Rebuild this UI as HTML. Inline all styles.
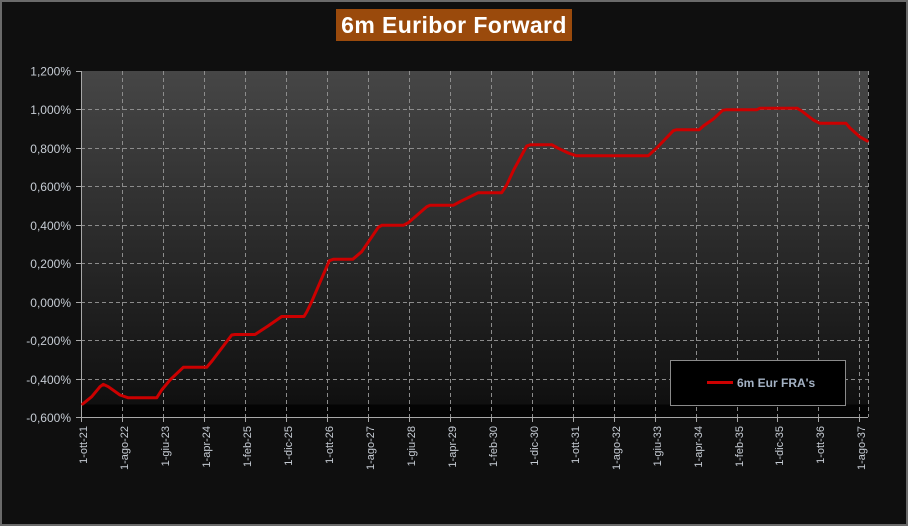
<!DOCTYPE html>
<html>
<head>
<meta charset="utf-8">
<style>
  html,body{margin:0;padding:0;background:#0f0f0f;}
  body{width:908px;height:526px;overflow:hidden;}
  svg{display:block;}
  text{font-family:"Liberation Sans",Arial,sans-serif;}
</style>
</head>
<body>
<svg width="908" height="526" viewBox="0 0 908 526" xmlns="http://www.w3.org/2000/svg">
  <defs>
    <linearGradient id="pg" x1="0" y1="0" x2="0" y2="1">
      <stop offset="0" stop-color="#464646"/>
      <stop offset="0.5" stop-color="#2a2a2a"/>
      <stop offset="0.96" stop-color="#101010"/>
      <stop offset="0.965" stop-color="#040404"/>
      <stop offset="1" stop-color="#040404"/>
    </linearGradient>
  </defs>
  <!-- background & border -->
  <rect x="0" y="0" width="908" height="526" fill="#0f0f0f"/>
  <rect x="1" y="1" width="906" height="524" fill="none" stroke="#6a6a6a" stroke-width="2"/>

  <!-- title -->
  <rect x="336" y="9" width="236" height="32" fill="#9a4a0c"/>
  <text x="454" y="33" text-anchor="middle" font-size="23" font-weight="bold" fill="#ffffff" letter-spacing="0.4">6m Euribor Forward</text>

  <!-- plot area -->
  <rect x="81" y="71" width="787" height="346.5" fill="url(#pg)"/>

  <!-- horizontal grid -->
  <g stroke="#8c8c8c" stroke-width="1" stroke-dasharray="4,3" shape-rendering="crispEdges">
    <line x1="81" y1="109.5" x2="868" y2="109.5"/>
    <line x1="81" y1="148.5" x2="868" y2="148.5"/>
    <line x1="81" y1="186.5" x2="868" y2="186.5"/>
    <line x1="81" y1="225.5" x2="868" y2="225.5"/>
    <line x1="81" y1="263.5" x2="868" y2="263.5"/>
    <line x1="81" y1="302.5" x2="868" y2="302.5"/>
    <line x1="81" y1="340.5" x2="868" y2="340.5"/>
    <line x1="81" y1="379.5" x2="868" y2="379.5"/>
  </g>
  <!-- vertical grid -->
  <g stroke="#8c8c8c" stroke-width="1" stroke-dasharray="4,3" shape-rendering="crispEdges">
    <line x1="122.5" y1="71" x2="122.5" y2="417"/>
    <line x1="163.5" y1="71" x2="163.5" y2="417"/>
    <line x1="204.5" y1="71" x2="204.5" y2="417"/>
    <line x1="245.5" y1="71" x2="245.5" y2="417"/>
    <line x1="286.5" y1="71" x2="286.5" y2="417"/>
    <line x1="327.5" y1="71" x2="327.5" y2="417"/>
    <line x1="368.5" y1="71" x2="368.5" y2="417"/>
    <line x1="409.5" y1="71" x2="409.5" y2="417"/>
    <line x1="450.5" y1="71" x2="450.5" y2="417"/>
    <line x1="491.5" y1="71" x2="491.5" y2="417"/>
    <line x1="532.5" y1="71" x2="532.5" y2="417"/>
    <line x1="573.5" y1="71" x2="573.5" y2="417"/>
    <line x1="614.5" y1="71" x2="614.5" y2="417"/>
    <line x1="655.5" y1="71" x2="655.5" y2="417"/>
    <line x1="696.5" y1="71" x2="696.5" y2="417"/>
    <line x1="737.5" y1="71" x2="737.5" y2="417"/>
    <line x1="777.5" y1="71" x2="777.5" y2="417"/>
    <line x1="818.5" y1="71" x2="818.5" y2="417"/>
    <line x1="859.5" y1="71" x2="859.5" y2="417"/>
  </g>

  <!-- axes -->
  <g stroke="#a8a8a8" stroke-width="1" shape-rendering="crispEdges">
    <line x1="81.5" y1="71" x2="81.5" y2="422"/>
    <line x1="76" y1="417.5" x2="868" y2="417.5"/>
    <!-- y ticks -->
    <line x1="76" y1="71.5" x2="81" y2="71.5"/>
    <line x1="76" y1="109.5" x2="81" y2="109.5"/>
    <line x1="76" y1="148.5" x2="81" y2="148.5"/>
    <line x1="76" y1="186.5" x2="81" y2="186.5"/>
    <line x1="76" y1="225.5" x2="81" y2="225.5"/>
    <line x1="76" y1="263.5" x2="81" y2="263.5"/>
    <line x1="76" y1="302.5" x2="81" y2="302.5"/>
    <line x1="76" y1="340.5" x2="81" y2="340.5"/>
    <line x1="76" y1="379.5" x2="81" y2="379.5"/>
    <!-- x ticks -->
    <line x1="122.5" y1="417" x2="122.5" y2="422"/>
    <line x1="163.5" y1="417" x2="163.5" y2="422"/>
    <line x1="204.5" y1="417" x2="204.5" y2="422"/>
    <line x1="245.5" y1="417" x2="245.5" y2="422"/>
    <line x1="286.5" y1="417" x2="286.5" y2="422"/>
    <line x1="327.5" y1="417" x2="327.5" y2="422"/>
    <line x1="368.5" y1="417" x2="368.5" y2="422"/>
    <line x1="409.5" y1="417" x2="409.5" y2="422"/>
    <line x1="450.5" y1="417" x2="450.5" y2="422"/>
    <line x1="491.5" y1="417" x2="491.5" y2="422"/>
    <line x1="532.5" y1="417" x2="532.5" y2="422"/>
    <line x1="573.5" y1="417" x2="573.5" y2="422"/>
    <line x1="614.5" y1="417" x2="614.5" y2="422"/>
    <line x1="655.5" y1="417" x2="655.5" y2="422"/>
    <line x1="696.5" y1="417" x2="696.5" y2="422"/>
    <line x1="737.5" y1="417" x2="737.5" y2="422"/>
    <line x1="777.5" y1="417" x2="777.5" y2="422"/>
    <line x1="818.5" y1="417" x2="818.5" y2="422"/>
    <line x1="859.5" y1="417" x2="859.5" y2="422"/>
  </g>
  <line x1="868.5" y1="71" x2="868.5" y2="417" stroke="#8c8c8c" stroke-width="1" stroke-dasharray="4,3" shape-rendering="crispEdges"/>

  <!-- y labels -->
  <g font-size="12" fill="#c6ccd4" text-anchor="end">
    <text x="71" y="75.5">1,200%</text>
    <text x="71" y="114">1,000%</text>
    <text x="71" y="153">0,800%</text>
    <text x="71" y="191">0,600%</text>
    <text x="71" y="230">0,400%</text>
    <text x="71" y="268">0,200%</text>
    <text x="71" y="307">0,000%</text>
    <text x="71" y="345">-0,200%</text>
    <text x="71" y="384">-0,400%</text>
    <text x="71" y="422">-0,600%</text>
  </g>

  <!-- x labels -->
  <g font-size="11" fill="#c6ccd4" text-anchor="end">
    <text transform="translate(87,426) rotate(-90)">1-ott-21</text>
    <text transform="translate(128,426) rotate(-90)">1-ago-22</text>
    <text transform="translate(169,426) rotate(-90)">1-giu-23</text>
    <text transform="translate(210,426) rotate(-90)">1-apr-24</text>
    <text transform="translate(251,426) rotate(-90)">1-feb-25</text>
    <text transform="translate(292,426) rotate(-90)">1-dic-25</text>
    <text transform="translate(333,426) rotate(-90)">1-ott-26</text>
    <text transform="translate(374,426) rotate(-90)">1-ago-27</text>
    <text transform="translate(415,426) rotate(-90)">1-giu-28</text>
    <text transform="translate(456,426) rotate(-90)">1-apr-29</text>
    <text transform="translate(497,426) rotate(-90)">1-feb-30</text>
    <text transform="translate(538,426) rotate(-90)">1-dic-30</text>
    <text transform="translate(579,426) rotate(-90)">1-ott-31</text>
    <text transform="translate(620,426) rotate(-90)">1-ago-32</text>
    <text transform="translate(661,426) rotate(-90)">1-giu-33</text>
    <text transform="translate(702,426) rotate(-90)">1-apr-34</text>
    <text transform="translate(743,426) rotate(-90)">1-feb-35</text>
    <text transform="translate(783,426) rotate(-90)">1-dic-35</text>
    <text transform="translate(824,426) rotate(-90)">1-ott-36</text>
    <text transform="translate(865,426) rotate(-90)">1-ago-37</text>
  </g>

  <!-- series -->
  <polyline fill="none" stroke="#cc0000" stroke-width="3" stroke-linejoin="round" stroke-linecap="round"
    points="82.7,404 91.7,396.7 100,386.7 103.3,384.3 108.3,386.7 120,395 128.3,397.8 156.7,397.8 161.7,390 170,380 183.3,367.3 206.7,367.3 212,361 231.7,335 235,334.5 255,334.5 268,326 281.7,316.5 304,316.5 306.7,312 311.7,301.7 329.3,260.7 333.3,259.3 352.7,259.3 361.7,251.7 378.3,227.3 381.7,225.3 403.3,225.3 408.3,222.7 426.7,206.7 430,205.3 453.3,205.3 460,201.7 478.3,192.7 501.7,192.7 506.7,185 514,169.3 526.7,146 530.7,144.7 551.7,144.7 558.3,148.3 568.3,153 576,155.7 648.3,155.7 656.7,148 673.3,130.7 676.7,129.7 699.3,129.7 703.3,126 713.3,119 722.7,110.3 726.7,109.7 756.7,109.7 760,108.3 797.3,108.3 801.7,111 813.3,120 820,123.3 846,123.3 850,128 860,137 867.3,141"/>

  <!-- legend -->
  <rect x="670.5" y="360.5" width="175" height="45" fill="#000000" stroke="#8a8a8a" stroke-width="1"/>
  <line x1="707" y1="382.5" x2="733" y2="382.5" stroke="#cc0000" stroke-width="3"/>
  <text x="737" y="387" font-size="12" font-weight="bold" fill="#a4b2c4">6m Eur FRA's</text>
</svg>
</body>
</html>
